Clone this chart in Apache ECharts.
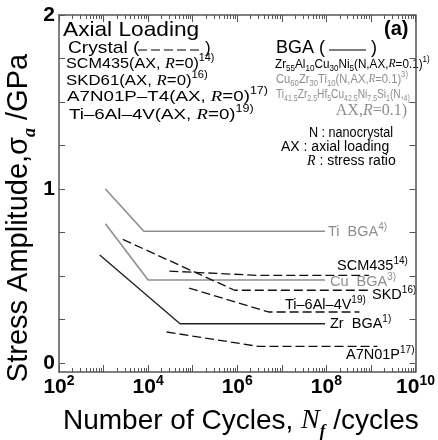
<!DOCTYPE html>
<html>
<head>
<meta charset="utf-8">
<script src="https://cdn.jsdelivr.net/npm/echarts@6/dist/echarts.min.js"></script>
<style>
  html, body { margin: 0; padding: 0; background: #fff; }
  #chart { width: 438px; height: 440px; }
</style>
</head>
<body>
<div id="chart"></div>
<script>
// S-N fatigue curves: [cycles to failure, stress amplitude (GPa)]
const tiBGA   = [[1.1e3, 1.0],  [8.0e3, 0.757], [9.3e7, 0.757]];
const cuBGA   = [[1.1e3, 0.80], [1.0e4, 0.477], [9.3e7, 0.477]];
const zrBGA   = [[8.2e2, 0.62], [5.2e4, 0.225], [9.3e7, 0.225]];
const scm435  = [[3.0e4, 0.528],[3.0e6, 0.503], [9.0e8, 0.503]];
const skd61   = [[2.7e3, 0.71], [8.7e5, 0.418], [8.5e8, 0.418]];
const ti6al4v = [[8.3e4, 0.43], [5.0e6, 0.293], [5.5e8, 0.293]];
const a7n01p  = [[2.6e4, 0.178],[3.0e6, 0.095], [1.4e9, 0.095]];

// Axis ticks and labels
const xDecades = [1e2, 1e3, 1e4, 1e5, 1e6, 1e7, 1e8, 1e9, 1e10];
const xLabelValues = [1e2, 1e4, 1e6, 1e8, 1e10];
const yTickValues = [0, 0.25, 0.5, 0.75, 1, 1.25, 1.5, 1.75, 2];
const yLabelValues = [0, 1, 2];

const xMinor = [];
for (let d = 2; d < 10; d++) {
  for (let k = 2; k <= 9; k++) xMinor.push(k * Math.pow(10, d));
}

const SANS = '"Liberation Sans", Arial, Helvetica, sans-serif';
const SERIF = '"Liberation Serif", "Times New Roman", serif';
const FRAME = '#555';
const GRAY = '#8e8e8e';

function xAxisDef(position, major, withLabels) {
  return {
    type: 'log', logBase: 10, min: 1e2, max: 1e10, position: position,
    axisLine: { show: major, onZero: false, lineStyle: { color: FRAME, width: 1.5 } },
    axisTick: { show: true, inside: true, length: major ? 7 : 4,
                customValues: major ? xDecades : xMinor,
                lineStyle: { color: FRAME, width: 1 } },
    axisLabel: withLabels ? {
      show: true, customValues: xLabelValues, margin: 2,
      formatter: v => '{b|10}{s|' + Math.round(Math.log10(v)) + '}',
      rich: {
        b: { fontSize: 21, fontWeight: 'bold', fontFamily: SANS, color: '#000', lineHeight: 26, verticalAlign: 'middle' },
        s: { fontSize: 14, fontWeight: 'bold', fontFamily: SANS, color: '#000', lineHeight: 14, verticalAlign: 'top' }
      }
    } : { show: false },
    splitLine: { show: false },
    minorTick: { show: false }
  };
}

function yAxisDef(position, withLabels) {
  return {
    type: 'value', min: -0.052, max: 2, position: position,
    axisLine: { show: true, onZero: false, lineStyle: { color: FRAME, width: 1.5 } },
    axisTick: { show: true, inside: true, length: 6, customValues: yTickValues,
                lineStyle: { color: FRAME, width: 1 } },
    axisLabel: withLabels ? {
      show: true, customValues: yLabelValues, margin: 4,
      fontSize: 21, fontWeight: 'bold', fontFamily: SANS, color: '#000'
    } : { show: false },
    splitLine: { show: false }
  };
}

function curve(name, data, color, width, dashed) {
  return {
    name: name, type: 'line', data: data, xAxisIndex: 0, yAxisIndex: 0,
    symbol: 'none', silent: true, animation: false,
    lineStyle: { color: color, width: width, type: dashed ? [9, 4] : 'solid' }
  };
}

// rich text styles with sub/superscripts
function richStyles(fs, color, smallSize) {
  const lh = Math.round(fs * 1.4);
  const small = smallSize || Math.round(fs * 0.66);
  return {
    n:   { fontSize: fs, fontFamily: SANS, color: color, lineHeight: lh, verticalAlign: 'middle' },
    b:   { fontSize: fs, fontFamily: SANS, fontWeight: 'bold', color: color, lineHeight: lh, verticalAlign: 'middle' },
    i:   { fontSize: fs, fontFamily: SERIF, fontStyle: 'italic', color: color, lineHeight: lh, verticalAlign: 'middle' },
    r:   { fontSize: fs, fontFamily: SERIF, color: color, lineHeight: lh, verticalAlign: 'middle' },
    sup: { fontSize: small, fontFamily: SANS, color: color, lineHeight: small, verticalAlign: 'top' },
    sub: { fontSize: small, fontFamily: SANS, color: color, lineHeight: small, verticalAlign: 'bottom' },
    isub:{ fontSize: small + 2, fontFamily: SERIF, fontStyle: 'italic', fontWeight: 'bold', color: color,
           lineHeight: small, verticalAlign: 'bottom' }
  };
}

function label(x, y, text, fs, color, opts) {
  opts = opts || {};
  const el = {
    type: 'text', x: x, y: y, silent: true,
    style: {
      text: text, rich: richStyles(fs, color, opts.small),
      fontSize: fs, fontFamily: SANS, fill: color,
      align: opts.align || 'left', verticalAlign: 'middle'
    }
  };
  if (opts.rotation) el.rotation = opts.rotation;
  if (opts.sx) el.scaleX = opts.sx;
  return el;
}

const graphics = [
  // axis titles
  label(63, 421, '{n|Number of Cycles, }{i|N}{isub|f}{n| /cycles}', 28, '#000', { small: 15 }),
  label(19, 218, '{n|Stress Amplitude,σ}{isub|a}{n| /GPa}', 29, '#000',
        { rotation: Math.PI / 2, align: 'center', small: 16 }),

  // crystalline alloys legend
  label(63, 30, '{n|Axial Loading}', 21, '#000', { sx: 1.08 }),
  label(68, 48, '{n|Crystal (}', 17, '#000', { sx: 1.13 }),
  label(205, 48, '{n|)}', 17, '#000'),
  label(66, 64, '{n|SCM435(AX, }{i|R}{n|=0)}{sup|14)}', 15, '#000', { small: 10, sx: 1.08 }),
  label(66, 81, '{n|SKD61(AX, }{i|R}{n|=0)}{sup|16)}', 15, '#000', { small: 10, sx: 1.12 }),
  label(67, 97, '{n|A7N01P–T4(AX, }{i|R}{n|=0)}{sup|17)}', 15, '#000', { small: 10, sx: 1.25 }),
  label(69, 115, '{n|Ti–6Al–4V(AX, }{i|R}{n|=0)}{sup|19)}', 15, '#000', { small: 10, sx: 1.25 }),

  // bulk glassy alloys legend
  label(384, 29, '{b|(a)}', 20, '#000'),
  label(276, 48, '{n|BGA (}', 18, '#000'),
  label(371, 48, '{n|)}', 18, '#000'),
  label(275, 64, '{n|Zr}{sub|55}{n|Al}{sub|10}{n|Cu}{sub|30}{n|Ni}{sub|5}{n|(N,AX,}{i|R}{n|=0.1)}{sup|1)}', 13, '#000', { small: 9, sx: 0.9 }),
  label(276, 79, '{n|Cu}{sub|60}{n|Zr}{sub|30}{n|Ti}{sub|10}{n|(N,AX,}{i|R}{n|=0.1)}{sup|3)}', 13, GRAY, { small: 9, sx: 0.86 }),
  label(276, 94, '{n|Ti}{sub|41.5}{n|Zr}{sub|2.5}{n|Hf}{sub|5}{n|Cu}{sub|42.5}{n|Ni}{sub|7.5}{n|Si}{sub|1}{n|(N,}{sub|4)}', 13, GRAY, { small: 9, sx: 0.78 }),
  label(407, 111, '{r|AX,}{i|R}{r|=0.1)}', 16, GRAY, { align: 'right' }),

  // abbreviations
  label(309, 133, '{n|N : nanocrystal}', 14, '#000', { sx: 0.9 }),
  label(281, 147, '{n|AX : axial loading}', 14, '#000'),
  label(307, 161, '{i|R}{n| : stress ratio}', 14, '#000'),

  // curve labels
  label(328, 232, '{n|Ti  BGA}{sup|4)}', 14.5, GRAY, { small: 10 }),
  label(337, 266, '{n|SCM435}{sup|14)}', 14.5, '#000', { small: 10 }),
  label(330, 282, '{n|Cu  BGA}{sup|3)}', 14.5, GRAY, { small: 10 }),
  label(372, 295, '{n|SKD}{sup|16)}', 14.5, '#000', { small: 10 }),
  label(285, 305, '{n|Ti–6Al–4V}{sup|19)}', 14.5, '#000', { small: 10 }),
  label(330, 324, '{n|Zr  BGA}{sup|1)}', 14.5, '#000', { small: 10 }),
  label(346, 355, '{n|A7N01P}{sup|17)}', 14.5, '#000', { small: 10 }),

  // legend line samples
  { type: 'line', silent: true, shape: { x1: 138, y1: 50, x2: 199, y2: 50 },
    style: { stroke: '#000', lineWidth: 1.2, lineDash: [9, 4] } },
  { type: 'line', silent: true, shape: { x1: 329, y1: 50, x2: 366, y2: 50 },
    style: { stroke: '#000', lineWidth: 1.2 } }
];

const chart = echarts.init(document.getElementById('chart'), null, { renderer: 'canvas' });
chart.setOption({
  animation: false,
  backgroundColor: '#fff',
  grid: { left: 59, right: 19, top: 15, bottom: 68, containLabel: false },
  xAxis: [
    xAxisDef('bottom', true, true),
    xAxisDef('bottom', false, false),
    xAxisDef('top', true, false),
    xAxisDef('top', false, false)
  ],
  yAxis: [
    yAxisDef('left', true),
    yAxisDef('right', false)
  ],
  series: [
    curve('Ti BGA', tiBGA, GRAY, 1.6, false),
    curve('Cu BGA', cuBGA, GRAY, 1.6, false),
    curve('Zr BGA', zrBGA, '#222', 1.4, false),
    curve('SCM435', scm435, '#111', 1.3, true),
    curve('SKD61', skd61, '#111', 1.3, true),
    curve('Ti-6Al-4V', ti6al4v, '#111', 1.3, true),
    curve('A7N01P', a7n01p, '#111', 1.3, true)
  ],
  graphic: graphics
});
</script>
</body>
</html>
